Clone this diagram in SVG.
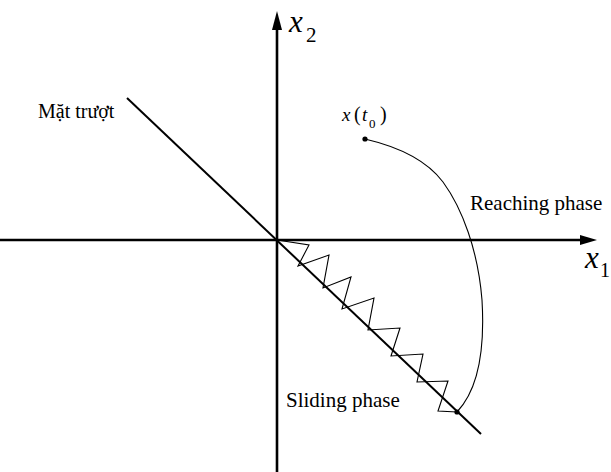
<svg xmlns="http://www.w3.org/2000/svg" width="611" height="472" viewBox="0 0 611 472">
<style>
.lbl{font-family:"Liberation Serif","Times New Roman",serif;fill:#000}
.it{font-style:italic}
.ax{stroke:#000;stroke-width:2.6;fill:none}
.thin{stroke:#000;stroke-width:1.1;fill:none}
</style>
<rect width="611" height="472" fill="#fff"/>
<g id="axes">
<line class="ax" x1="0" y1="240" x2="582" y2="240"/>
<polygon points="597,240 580,235 580,245" fill="#000"/>
<line class="ax" x1="277" y1="472" x2="277" y2="28"/>
<polygon points="277,11 272,30 282,30" fill="#000"/>
<text class="lbl it" x="289" y="32" font-size="31">x</text>
<text class="lbl" x="306" y="42" font-size="21">2</text>
<text class="lbl it" x="585" y="268" font-size="31">x</text>
<text class="lbl" x="600" y="277" font-size="20">1</text>
</g>
<g id="sliding-surface">
<line stroke="#000" stroke-width="2" x1="127" y1="98" x2="481" y2="434"/>
<text class="lbl" x="38" y="118" font-size="20">Mặt trượt</text>
</g>
<g id="connectors">
<path class="thin" d="M365,139 C395,146 425,158 443,182 C462,208 478,250 482,300 C485,350 478,390 457,412"/>
<polyline class="thin" points="277,240 309,245 298,266 329,255 323,288 351,277 342,309 374,298 368,330 400,328 391,356 423,354 417,382 448,381 438,411 457,412"/>
</g>
<g id="start-point">
<circle cx="365" cy="139" r="2.6" fill="#000"/>
<text class="lbl it" x="342" y="121" font-size="19">x</text>
<text class="lbl" x="354" y="121" font-size="20">(</text>
<text class="lbl it" x="362" y="121" font-size="19">t</text>
<text class="lbl" x="369" y="128" font-size="13">0</text>
<text class="lbl" x="380" y="121" font-size="20">)</text>
</g>
<g id="end-point">
<circle cx="457" cy="412" r="2.6" fill="#000"/>
</g>
<g id="labels">
<text class="lbl" x="470" y="210" font-size="21">Reaching phase</text>
<text class="lbl" x="286" y="407" font-size="21">Sliding phase</text>
</g>
</svg>
